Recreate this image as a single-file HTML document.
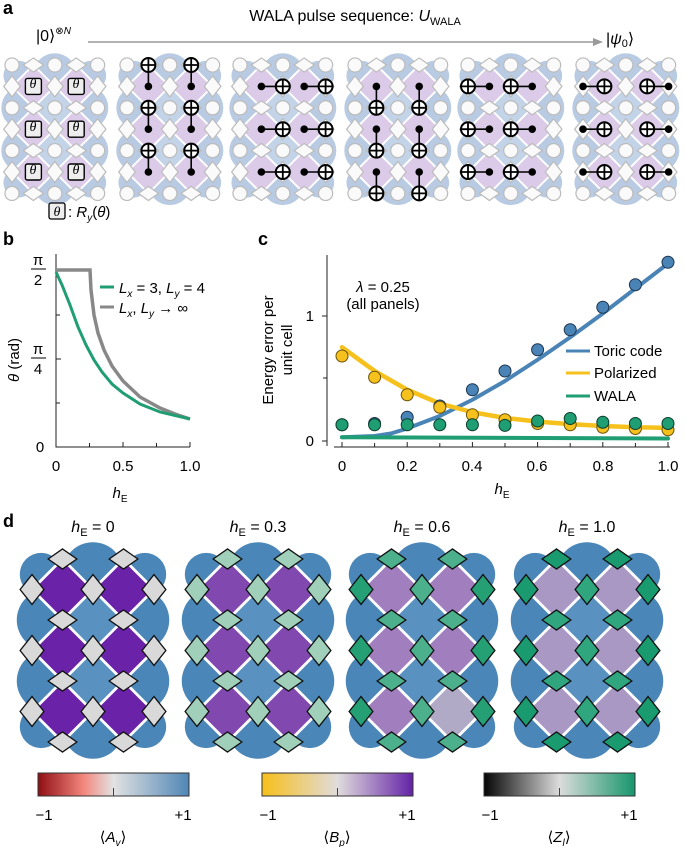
<!DOCTYPE html>
<html><head><meta charset="utf-8">
<style>
html,body{margin:0;padding:0;background:#fff;}
svg{display:block;font-family:"Liberation Sans",sans-serif;}
</style></head><body>
<svg id="s" width="685" height="847" viewBox="0 0 685 847" xmlns="http://www.w3.org/2000/svg">
<defs>
<linearGradient id="g1" x1="0" x2="1" y1="0" y2="0"><stop offset="0" stop-color="#8f0e14"/><stop offset="0.3" stop-color="#f3867c"/><stop offset="0.5" stop-color="#e2e2e2"/><stop offset="1" stop-color="#4f86b6"/></linearGradient>
<linearGradient id="g2" x1="0" x2="1" y1="0" y2="0"><stop offset="0" stop-color="#f7bf1a"/><stop offset="0.5" stop-color="#e0dcdc"/><stop offset="1" stop-color="#6322a6"/></linearGradient>
<linearGradient id="g3" x1="0" x2="1" y1="0" y2="0"><stop offset="0" stop-color="#050505"/><stop offset="0.5" stop-color="#dcdcdc"/><stop offset="1" stop-color="#16966c"/></linearGradient>
</defs>
<g id="lat"></g>
<!-- panel a text -->
<text x="3" y="14" font-size="18" font-weight="bold">a</text>
<text x="355" y="21" font-size="16" text-anchor="middle">WALA pulse sequence: <tspan font-style="italic">U</tspan><tspan font-size="11" dy="4">WALA</tspan></text>
<text x="36" y="41" font-size="16">|0⟩<tspan font-size="10" dy="-7">⊗<tspan font-style="italic">N</tspan></tspan></text>
<line x1="88" y1="42" x2="596" y2="42" stroke="#999" stroke-width="1.5"/>
<polygon points="603,42 593,38 593,46" fill="#999"/>
<text x="606" y="44" font-size="16">|<tspan font-style="italic">ψ</tspan><tspan font-size="11" dy="3">0</tspan><tspan dy="-3">⟩</tspan></text>
<text x="33" y="88" font-size="14" font-style="italic" text-anchor="middle" font-family="Liberation Serif,serif">θ</text>
<text x="76" y="88" font-size="14" font-style="italic" text-anchor="middle" font-family="Liberation Serif,serif">θ</text>
<text x="33" y="131" font-size="14" font-style="italic" text-anchor="middle" font-family="Liberation Serif,serif">θ</text>
<text x="76" y="131" font-size="14" font-style="italic" text-anchor="middle" font-family="Liberation Serif,serif">θ</text>
<text x="33" y="174" font-size="14" font-style="italic" text-anchor="middle" font-family="Liberation Serif,serif">θ</text>
<text x="76" y="174" font-size="14" font-style="italic" text-anchor="middle" font-family="Liberation Serif,serif">θ</text>
<rect x="49" y="203" width="16" height="16" rx="2" fill="#eee" stroke="#000" stroke-width="1.3"/>
<text x="57" y="216" font-size="14" font-style="italic" text-anchor="middle" font-family="Liberation Serif,serif">θ</text>
<text x="68" y="217" font-size="15">: <tspan font-style="italic">R</tspan><tspan font-size="10" dy="4" font-style="italic">y</tspan><tspan dy="-4">(<tspan font-style="italic">θ</tspan>)</tspan></text>

<!-- panel b -->
<text x="3" y="245" font-size="18" font-weight="bold">b</text>
<g stroke="#222" stroke-width="1" fill="none">
<path d="M56,254 V447 H190"/>
<path d="M56,270 h5 M56,315 h4 M56,359 h5 M56,403 h4"/>
<path d="M56,447 v-5 M89.5,447 v-4 M123,447 v-5 M156.5,447 v-4 M190,447 v-5"/>
</g>
<g font-size="15" text-anchor="middle">
<text x="38" y="265">π</text><line x1="31" y1="269" x2="46" y2="269" stroke="#000"/><text x="38" y="285">2</text>
<text x="38" y="354">π</text><line x1="31" y1="358" x2="46" y2="358" stroke="#000"/><text x="38" y="374">4</text>
<text x="40" y="452">0</text>
<text x="56" y="471">0</text><text x="123" y="471">0.5</text><text x="190" y="471">1.0</text>
<text x="120" y="498" font-style="italic">h<tspan font-size="10" dy="4" font-style="normal">E</tspan></text>
</g>
<text transform="translate(19,360) rotate(-90)" font-size="15" text-anchor="middle"><tspan font-style="italic">θ</tspan> (rad)</text>
<polyline fill="none" stroke="#888" stroke-width="3.5" points="56,270 90,270 91,290 94,315 98,333 104,350 112,366 123,381 140,397 160,408 175,414 190,419"/>
<polyline fill="none" stroke="#1f9e74" stroke-width="3" points="56,272 62,285 70,305 78,327 86,345 94,360 102,372 112,384 123,393 140,404 160,412 190,419"/>
<line x1="100" y1="287" x2="114" y2="287" stroke="#1f9e74" stroke-width="3"/>
<line x1="100" y1="307" x2="114" y2="307" stroke="#888" stroke-width="3"/>
<text x="119" y="293" font-size="15"><tspan font-style="italic">L</tspan><tspan font-size="10" dy="4" font-style="italic">x</tspan><tspan dy="-4"> = 3, </tspan><tspan font-style="italic">L</tspan><tspan font-size="10" dy="4" font-style="italic">y</tspan><tspan dy="-4"> = 4</tspan></text>
<text x="119" y="313" font-size="15"><tspan font-style="italic">L</tspan><tspan font-size="10" dy="4" font-style="italic">x</tspan><tspan dy="-4">, </tspan><tspan font-style="italic">L</tspan><tspan font-size="10" dy="4" font-style="italic">y</tspan><tspan dy="-4"> → ∞</tspan></text>

<!-- panel c -->
<text x="258" y="245" font-size="18" font-weight="bold">c</text>
<g stroke="#222" stroke-width="1" fill="none">
<path d="M327,255 V446 M334,447 H670"/>
<path d="M327,441 h-5 M327,378 h-4 M327,316 h-5"/>
<path id="xt"/>
</g>
<g font-size="15" text-anchor="middle">
<text x="314" y="446" text-anchor="end">0</text><text x="314" y="321" text-anchor="end">1</text>
<text x="342" y="471">0</text><text x="407" y="471">0.2</text><text x="472" y="471">0.4</text><text x="537" y="471">0.6</text><text x="603" y="471">0.8</text><text x="668" y="471">1.0</text>
<text x="502" y="494" font-style="italic">h<tspan font-size="10" dy="4" font-style="normal">E</tspan></text>
<text x="383" y="292"><tspan font-style="italic">λ</tspan> = 0.25</text>
<text x="383" y="309">(all panels)</text>
</g>
<text transform="translate(273,350) rotate(-90)" font-size="15" text-anchor="middle">Energy error per</text>
<text transform="translate(292,350) rotate(-90)" font-size="15" text-anchor="middle">unit cell</text>
<g id="cplot"></g>
<line x1="566" y1="351" x2="590" y2="351" stroke="#4a84b6" stroke-width="3"/>
<line x1="566" y1="373" x2="590" y2="373" stroke="#f6c11c" stroke-width="3"/>
<line x1="566" y1="396" x2="590" y2="396" stroke="#1f9e74" stroke-width="3"/>
<text x="594" y="356" font-size="15">Toric code</text>
<text x="594" y="378" font-size="15">Polarized</text>
<text x="594" y="401" font-size="15">WALA</text>

<!-- panel d -->
<text x="3" y="527" font-size="18" font-weight="bold">d</text>
<g font-size="16" text-anchor="middle">
<text x="93" y="532" font-style="italic">h<tspan font-size="11" dy="4" font-style="normal">E</tspan><tspan font-style="normal" dy="-4"> = 0</tspan></text>
<text x="258" y="532" font-style="italic">h<tspan font-size="11" dy="4" font-style="normal">E</tspan><tspan font-style="normal" dy="-4"> = 0.3</tspan></text>
<text x="422" y="532" font-style="italic">h<tspan font-size="11" dy="4" font-style="normal">E</tspan><tspan font-style="normal" dy="-4"> = 0.6</tspan></text>
<text x="587" y="532" font-style="italic">h<tspan font-size="11" dy="4" font-style="normal">E</tspan><tspan font-style="normal" dy="-4"> = 1.0</tspan></text>
</g>
<rect x="38" y="773" width="151" height="23" fill="url(#g1)" stroke="#333" stroke-width="1"/>
<rect x="262" y="773" width="151" height="23" fill="url(#g2)" stroke="#333" stroke-width="1"/>
<rect x="484" y="773" width="151" height="23" fill="url(#g3)" stroke="#333" stroke-width="1"/>
<g stroke="#444" stroke-width="1"><line x1="113.5" y1="796" x2="113.5" y2="788"/><line x1="337.5" y1="796" x2="337.5" y2="788"/><line x1="559.5" y1="796" x2="559.5" y2="788"/></g>
<g font-size="15" text-anchor="middle">
<text x="44" y="820">−1</text><text x="183" y="820">+1</text>
<text x="268" y="820">−1</text><text x="407" y="820">+1</text>
<text x="490" y="820">−1</text><text x="629" y="820">+1</text>
<text x="113" y="842">⟨<tspan font-style="italic">A</tspan><tspan font-size="10" dy="4" font-style="italic">v</tspan><tspan dy="-4">⟩</tspan></text>
<text x="337" y="842">⟨<tspan font-style="italic">B</tspan><tspan font-size="10" dy="4" font-style="italic">p</tspan><tspan dy="-4">⟩</tspan></text>
<text x="559" y="842">⟨<tspan font-style="italic">Z</tspan><tspan font-size="10" dy="4" font-style="italic">l</tspan><tspan dy="-4">⟩</tspan></text>
</g>
</svg>
<script>
var NS="http://www.w3.org/2000/svg";
function el(p,t,a){var e=document.createElementNS(NS,t);for(var k in a)e.setAttribute(k,a[k]);p.appendChild(e);return e;}
var L=document.getElementById('lat');
var S=document.getElementById('s');
function lattice(x0,y0,s,o){
 var g=el(L,'g',{});
 var X=function(c){return x0+s*c},Y=function(r){return y0+s*r};
 var B=o.blue;
 el(g,'rect',{x:X(-0.1),y:Y(0),width:s*4.2,height:s*6,fill:B});
 var cs=[[2,0.45,1],[2,5.55,1],[0.3,0.5,0.7],[3.7,0.5,0.7],[0.3,5.5,0.7],[3.7,5.5,0.7],[0.5,2,1],[0.5,4,1],[3.5,2,1],[3.5,4,1]];
 cs.forEach(function(c){el(g,'circle',{cx:X(c[0]),cy:Y(c[1]),r:s*c[2],fill:B});});
 // center light squares
 [[2,2],[2,4]].forEach(function(p){var cx=X(p[0]),cy=Y(p[1]);el(g,'polygon',{points:[cx,cy-s,cx+s,cy,cx,cy+s,cx-s,cy].join(' '),fill:o.blue2});});
 for(var c=1;c<=3;c+=2)for(var r=1;r<=5;r+=2){
  var cx=X(c),cy=Y(r);var col=(o.pf?o.pf(c,r):o.purple);
  el(g,'polygon',{points:[cx,cy-s,cx+s,cy,cx,cy+s,cx-s,cy].join(' '),fill:col,stroke:'#fff','stroke-width':s*0.09});
 }
 for(var c=0;c<=4;c++)for(var r=0;r<=6;r++){
  var cx=X(c),cy=Y(r),hw,hh;
  if(c%2==1&&r%2==0){hw=0.47*s;hh=0.33*s;}
  else if(c%2==0&&r%2==1){hw=0.39*s;hh=0.49*s;}
  else if(c%2==0&&r%2==0&&o.circ){el(g,'circle',{cx:cx,cy:cy,r:0.33*s,fill:'#fafafa',stroke:'#bbb','stroke-width':1.2});continue;}
  else continue;
  var f=o.df?o.df(c,r):o.dfill;
  el(g,'polygon',{points:[cx,cy-hh,cx+hw,cy,cx,cy+hh,cx-hw,cy].join(' '),fill:f,stroke:o.dstroke,'stroke-width':o.dsw});
 }
 return g;
}
var ax={blue:'#b9cbe3',blue2:'#c3d3e8',purple:'#dccbe8',circ:true,dfill:'#fafafa',dstroke:'#bbb',dsw:1.2};
var s=21.4, y0=65;
var xs=[12,127,240,355,468,583];
var gs=xs.map(function(x){return lattice(x,y0,s,ax);});
function tgt(g,x,y){el(g,'circle',{cx:x,cy:y,r:7,fill:'#fff',stroke:'#000','stroke-width':2});el(g,'path',{d:'M'+(x-7)+','+y+'h14M'+x+','+(y-7)+'v14',stroke:'#000','stroke-width':1.8});}
function ctl(g,x,y){el(g,'circle',{cx:x,cy:y,r:3.8,fill:'#000'});}
function cnot(g,cx,cy,tx,ty){el(g,'line',{x1:cx,y1:cy,x2:tx,y2:ty,stroke:'#000','stroke-width':1.6});ctl(g,cx,cy);tgt(g,tx,ty);}
// L1 theta boxes
for(var c=1;c<=3;c+=2)for(var r=1;r<=5;r+=2){var cx=xs[0]+s*c,cy=y0+s*r;el(gs[0],'rect',{x:cx-8,y:cy-8,width:16,height:16,rx:2,fill:'#eee',stroke:'#000','stroke-width':1.4});}
for(var c=1;c<=3;c+=2)for(var r=1;r<=5;r+=2){
 var Xf=function(i,cc){return xs[i]+s*cc},Yf=function(rr){return y0+s*rr};
 cnot(gs[1],Xf(1,c),Yf(r),Xf(1,c),Yf(r-1));
 cnot(gs[2],Xf(2,c),Yf(r),Xf(2,c+1),Yf(r));
 cnot(gs[3],Xf(3,c),Yf(r),Xf(3,c),Yf(r+1));
 cnot(gs[4],Xf(4,c),Yf(r),Xf(4,c-1),Yf(r));
 if(c==1)cnot(gs[5],Xf(5,0),Yf(r),Xf(5,1),Yf(r)); else cnot(gs[5],Xf(5,4),Yf(r),Xf(5,3),Yf(r));
}
// panel d
var ds=30.5,dy=559;
var dl=[
 {x:32,purple:'#6a22a8',dfill:'#d9d9d9'},
 {x:197,purple:'#8148b0',dfill:'#a0cfba'},
 {x:361,purple:'#a17fbe',dfill:'#40a984',pf:function(c,r){return (c==3&&r==5)?'#b1aac6':'#a17fbe';},df:function(c,r){return (c==0||c==4)?'#25a075':'#4db08d';}},
 {x:526,purple:'#aa98c4',dfill:'#1f9e73',df:function(c,r){return (c==2||(r%2==0&&r>0&&r<6))?'#2fa67e':'#1a9a6f';}}
];
dl.forEach(function(d){lattice(d.x,dy,ds,{blue:'#4a86b8',blue2:'#5991c1',purple:d.purple,pf:d.pf,df:d.df,circ:false,dfill:d.dfill,dstroke:'#111',dsw:1.3});});
// panel c
var C=document.getElementById('cplot');
var px=function(h){return 342+326*h},py=function(v){return 441-125*v};
var xt='';for(var i=0;i<=10;i++){xt+='M'+px(i/10)+',447v'+(i%2==0?-5:-4);}
document.getElementById('xt').setAttribute('d',xt);
function curve(pts,col,w){el(C,'polyline',{points:pts.map(function(p){return px(p[0])+','+py(p[1]);}).join(' '),fill:'none',stroke:col,'stroke-width':w,'stroke-linecap':'round','stroke-linejoin':'round'});}
curve([[0,.03],[.1,.04],[.15,.06],[.2,.1],[.3,.2],[.4,.33],[.5,.48],[.6,.65],[.7,.83],[.8,1.02],[.9,1.22],[1,1.42]],'#4a84b6',4);
curve([[0,.75],[.1,.56],[.2,.41],[.3,.30],[.4,.23],[.5,.185],[.6,.155],[.7,.135],[.8,.12],[.9,.11],[1,.105]],'#f6c11c',4.5);
curve([[0,.03],[1,.02]],'#1f9e74',4);
var tor=[.13,.14,.19,.28,.41,.56,.73,.89,1.07,1.25,1.43];
var pol=[.68,.51,.37,.27,.21,.17,.14,.13,.11,.1,.09];
var wal=[.13,.13,.13,.13,.13,.125,.16,.18,.15,.14,.14];
function dots(a,f,st){a.forEach(function(v,i){el(C,'circle',{cx:px(i/10),cy:py(v),r:6,fill:f,stroke:st,'stroke-width':1});});}
dots(tor,'#4a84b6','#1d3550');dots(pol,'#f6c11c','#6b5208');dots(wal,'#1f9e74','#0b3d2c');
</script>
</body></html>
